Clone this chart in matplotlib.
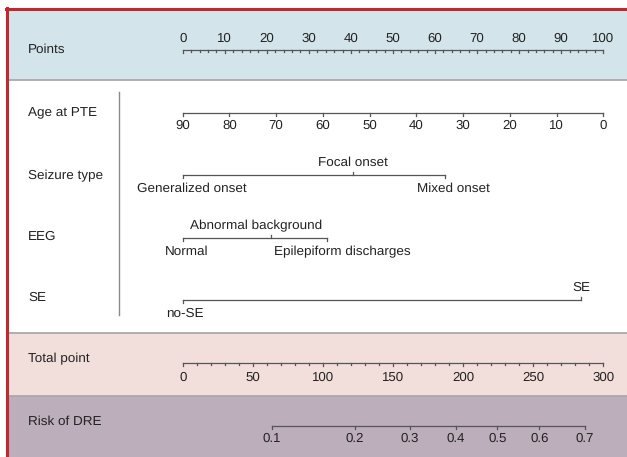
import matplotlib
matplotlib.use('Agg')
from matplotlib import pyplot as plt
from matplotlib.transforms import ScaledTranslation, blended_transform_factory

# nomogram data
points_ticks = [0, 10, 20, 30, 40, 50, 60, 70, 80, 90, 100]
age_ticks = [90, 80, 70, 60, 50, 40, 30, 20, 10, 0]
age_range = (90, 0)          # age 90 -> 0 points, age 0 -> 100 points
seizure_levels = ["Generalized onset", "Focal onset", "Mixed onset"]
seizure_points = [0, 40.5, 62.4]
eeg_levels = ["Normal", "Abnormal background", "Epilepiform discharges"]
eeg_points = [0, 21.1, 34.4]
se_levels = ["no-SE", "SE"]
se_points = [0, 94.7]
total_ticks = [0, 50, 100, 150, 200, 250, 300]
total_max = 300
risk_labels = ["0.1", "0.2", "0.3", "0.4", "0.5", "0.6", "0.7"]
risk_total = [63.4, 122.9, 162.1, 194.8, 224.5, 254.3, 286.6]

plt.rcParams['font.family'] = ['Liberation Sans', 'DejaVu Sans']
plt.rcParams['text.hinting'] = 'no_hinting'
LINE_C = '#555555'
TEXT_C = '#222222'
LAB_FS = 9.7
TICK_FS = 9.5

W, H = 627, 457
X0, PPP = 182.7, 4.206  # pixel of 0 points, pixels per point

fig = plt.figure(figsize=(W / 100, H / 100), dpi=100)
ax = fig.add_axes([0, 0, 1, 1])
ax.set_xlim(-X0 / PPP, (W - X0) / PPP)
ax.set_ylim(H, 0)
ax.axis('off')

# background bands
bands = [(10, 80, '#d3e4ea'), (80, 333, '#ffffff'), (333, 396, '#f2dfdb'), (396, 457, '#bdaebb')]
for y0, y1, c in bands:
    ax.axhspan(y0, y1, xmin=8 / W, xmax=1, color=c, lw=0, zorder=0)
for y in [80, 333, 396]:
    ax.axhline(y, xmin=8 / W, xmax=1, color='#a9a9a9', lw=1.3, zorder=1)
# red frame
ax.axhline(9, xmin=6 / W, xmax=1, color='#c1272d', lw=2.2, zorder=3)
ax.axvline(-X0 / PPP + 7 / PPP, ymin=0, ymax=1 - 8 / H, color='#c1272d', lw=2.2, zorder=3)
# separator
ax.plot([(119.3 - X0) / PPP] * 2, [92, 315], color='#8a8a8a', lw=1.0)

lab_tr = blended_transform_factory(ax.transAxes, ax.transData)
rows = [("Points", 50), ("Age at PTE", 113), ("Seizure type", 176), ("EEG", 237),
        ("SE", 298), ("Total point", 359), ("Risk of DRE", 422)]
for name, y in rows:
    ax.text(28 / W, y, name, transform=lab_tr, ha='left', va='center',
            fontsize=LAB_FS, color=TEXT_C)


def tick(x, y, length, up=False):
    d = -length if up else length
    ax.plot([x, x], [y, y + d], color=LINE_C, lw=0.9)


def axis_line(pos, y):
    ax.plot([min(pos), max(pos)], [y, y], color=LINE_C, lw=0.9)


# Points
y = 50
axis_line(points_ticks, y)
for v in range(0, 101, 2):
    tick(v, y, 3 if v % 10 == 0 else 1.8)
for v in points_ticks:
    ax.text(v, 38.5, str(v), ha='center', va='center', fontsize=TICK_FS, color=TEXT_C)

# Age at PTE
y = 113
age_pos = [(age_range[0] - a) / (age_range[0] - age_range[1]) * 100 for a in age_ticks]
axis_line(age_pos, y)
for p, a in zip(age_pos, age_ticks):
    tick(p, y, 3)
    ax.text(p, 125.5, str(a), ha='center', va='center', fontsize=TICK_FS, color=TEXT_C)


def categorical(y, levels, pos, sides, offsets):
    axis_line(pos, y)
    for lev, p, side, dx in zip(levels, pos, sides, offsets):
        up = side == 'above'
        tick(p, y, 3, up=up)
        ty = y - 12 if up else y + 14
        tr = ax.transData + ScaledTranslation(dx / 100, 0, fig.dpi_scale_trans)
        ax.text(p, ty, lev, ha='center', va='center', fontsize=LAB_FS, color=TEXT_C, transform=tr)


categorical(175, seizure_levels, seizure_points, ['below', 'above', 'below'], [9, 0, 8])
categorical(238, eeg_levels, eeg_points, ['below', 'above', 'below'], [4, -15, 15])
categorical(300, se_levels, se_points, ['below', 'above'], [2, 0])

# Total point
y = 362.7
total_pos = [t / total_max * 100 for t in total_ticks]
axis_line(total_pos, y)
for v in range(0, total_max + 1, 10):
    tick(v / total_max * 100, y, 3 if v % 50 == 0 else 1.8)
for p, t in zip(total_pos, total_ticks):
    ax.text(p, 377.5, str(t), ha='center', va='center', fontsize=TICK_FS, color=TEXT_C)

# Risk of DRE
y = 426
risk_pos = [t / total_max * 100 for t in risk_total]
axis_line(risk_pos, y)
for p, lab in zip(risk_pos, risk_labels):
    tick(p, y, 3)
    ax.text(p, 438.5, lab, ha='center', va='center', fontsize=TICK_FS, color=TEXT_C)

fig.savefig('out.png', dpi=100)
